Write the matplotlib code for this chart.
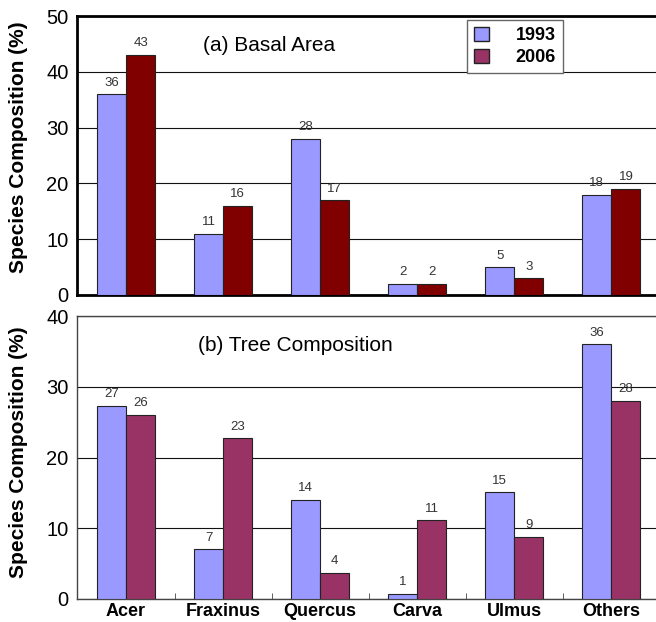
import matplotlib
matplotlib.use("Agg")
import matplotlib.pyplot as plt
import numpy as np
from matplotlib.patches import Patch

plt.rcParams['font.family'] = ['Liberation Sans', 'DejaVu Sans']

categories = ["Acer", "Fraxinus", "Quercus", "Carva", "Ulmus", "Others"]
years = ["1993", "2006"]
basal_1993 = [36, 11, 28, 2, 5, 18]
basal_2006 = [43, 16, 17, 2, 3, 19]
tree_1993 = [27.3, 7, 14, 0.7, 15.1, 36]
tree_2006 = [26, 22.7, 3.7, 11.1, 8.8, 28]
basal_lbl_1993 = ["36", "11", "28", "2", "5", "18"]
basal_lbl_2006 = ["43", "16", "17", "2", "3", "19"]
tree_lbl_1993 = ["27", "7", "14", "1", "15", "36"]
tree_lbl_2006 = ["26", "23", "4", "11", "9", "28"]

c1993 = "#9999FF"
c2006_a = "#800000"
c2006_b = "#993366"

fig = plt.figure(figsize=(6.56, 6.22), dpi=100)
ax1 = fig.add_axes([77/656, 1-295/622, 1-77/656, (295-16)/622])
ax2 = fig.add_axes([77/656, 1-599/622, 1-77/656, (599-316)/622])

x = np.arange(len(categories))
w = 0.3

def draw(ax, v1, v2, l1, l2, col2, ymax, step, thick, ylab_y):
    ax.bar(x - w/2, v1, w, color=c1993, edgecolor="#222222", linewidth=0.8, zorder=3, label=years[0])
    ax.bar(x + w/2, v2, w, color=col2, edgecolor="#222222", linewidth=0.8, zorder=3, label=years[1])
    for xi, v, t in zip(x - w/2, v1, l1):
        ax.text(xi, v + ymax*0.02, t, ha="center", va="bottom", fontsize=9.5, color="#333333")
    for xi, v, t in zip(x + w/2, v2, l2):
        ax.text(xi, v + ymax*0.02, t, ha="center", va="bottom", fontsize=9.5, color="#333333")
    ax.set_xlim(-0.505, 5.46)
    ax.set_ylim(0, ymax)
    ax.set_yticks(np.arange(0, ymax + 1, step))
    ax.yaxis.grid(True, color="#111111", linewidth=0.8, zorder=0)
    ax.set_axisbelow(True)
    ax.tick_params(axis="y", labelsize=14.5, length=0, pad=6)
    ax.set_ylabel("Species Composition (%)", fontsize=15, fontweight="bold")
    ax.yaxis.set_label_coords(-0.085, ylab_y)
    for s in ["top", "left", "bottom"]:
        ax.spines[s].set_linewidth(2.0 if thick else 1.0)
        ax.spines[s].set_color("#000000" if thick else "#444444")
    ax.spines["right"].set_visible(False)

draw(ax1, basal_1993, basal_2006, basal_lbl_1993, basal_lbl_2006, c2006_a, 50, 10, True, 0.53)
draw(ax2, tree_1993, tree_2006, tree_lbl_1993, tree_lbl_2006, c2006_b, 40, 10, False, 0.52)

ax1.set_xticks([])
ax2.set_xticks(x)
ax2.set_xticklabels(categories, fontsize=13, fontweight="bold")
ax2.tick_params(axis="x", length=0, pad=3)
ax2.set_xticks(np.arange(0.5, 5.5, 1), minor=True)
ax2.tick_params(axis="x", which="minor", direction="in", length=4, color="#444444")

ax1.text(0.218, 0.895, "(a) Basal Area", transform=ax1.transAxes, fontsize=15, ha="left", va="center")
ax2.text(0.209, 0.895, "(b) Tree Composition", transform=ax2.transAxes, fontsize=15, ha="left", va="center")

handles = [Patch(facecolor=c1993, edgecolor="#222222"), Patch(facecolor=c2006_b, edgecolor="#222222")]
leg = ax1.legend(handles, years, loc="upper left", bbox_to_anchor=((467-77)/579, 1-(20-16)/279),
                 prop={"weight": "bold", "size": 13}, frameon=True, fancybox=False,
                 edgecolor="#666666", framealpha=1, handlelength=0.8, handleheight=0.8,
                 borderpad=0.4, labelspacing=0.25, handletextpad=1.5, borderaxespad=0)
leg.get_frame().set_linewidth(1.0)

fig.savefig("out.png", dpi=100)
